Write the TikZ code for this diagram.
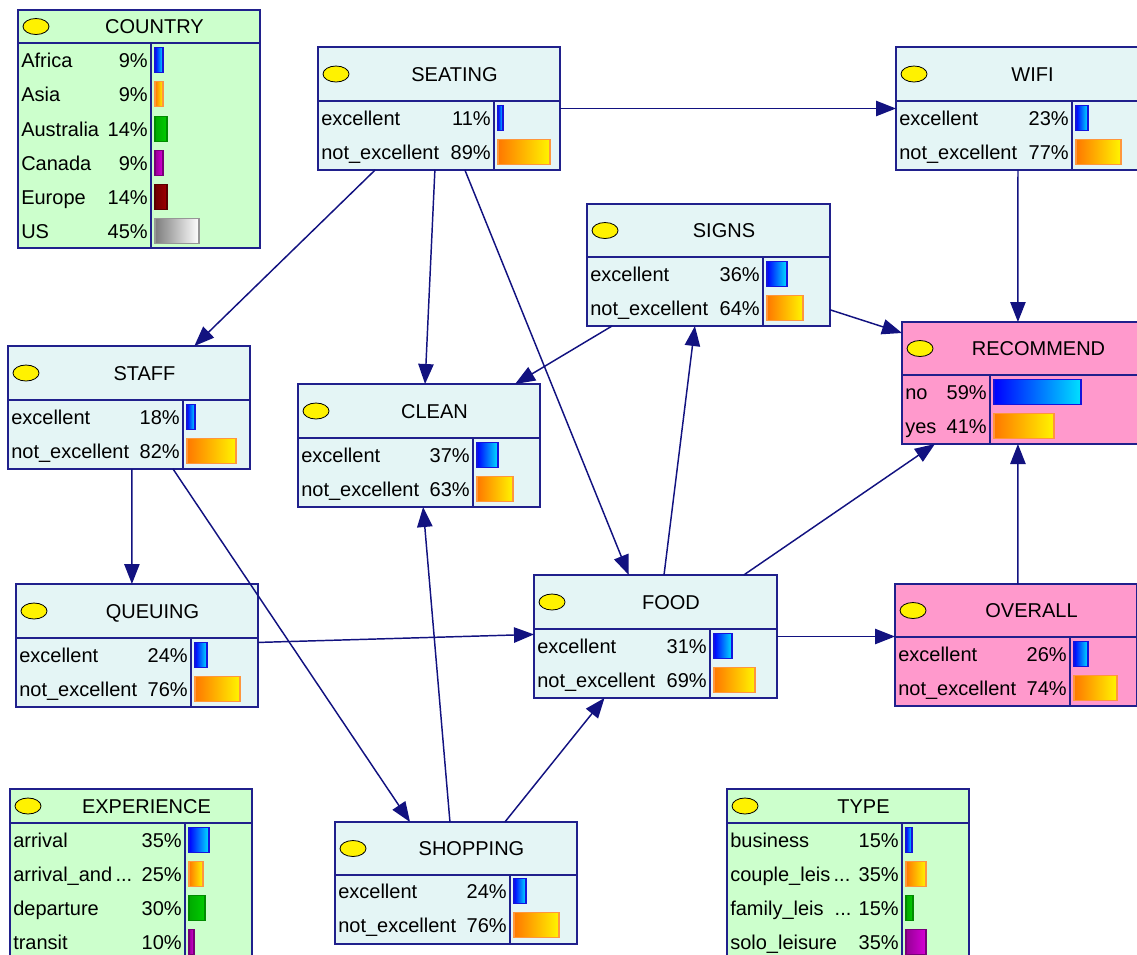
\documentclass[tikz,border=0pt]{standalone}
\usepackage{fontspec}
\setmainfont{Liberation Sans}
\usetikzlibrary{calc,arrows.meta}
\definecolor{cyanfill}{RGB}{228,245,245}
\definecolor{greenfill}{RGB}{204,255,204}
\definecolor{pinkfill}{RGB}{255,153,204}
\definecolor{boxline}{RGB}{32,32,140}
\definecolor{arrowcol}{RGB}{18,18,128}
\tikzset{
  box/.style={draw=boxline, line width=1.3pt, inner sep=0pt, outer sep=0pt},
  boxln/.style={draw=boxline, line width=1.3pt},
  icon/.style={fill=yellow, draw=black, line width=0.6pt},
  ttl/.style={font=\fontsize{15}{18}\selectfont, inner sep=0pt, anchor=base},
  lbl/.style={font=\fontsize{15}{18}\selectfont, inner sep=0pt},
  arr/.style={draw=arrowcol, line width=1.1pt, -{Triangle[length=15pt,width=11.5pt]}},
  bblue/.style={draw={rgb,255:red,20;green,20;blue,220}, line width=0.8pt, left color={rgb,255:red,0;green,0;blue,255}, right color={rgb,255:red,0;green,225;blue,255}},
  borange/.style={draw={rgb,255:red,255;green,150;blue,60}, line width=0.8pt, left color={rgb,255:red,255;green,120;blue,0}, right color={rgb,255:red,255;green,245;blue,0}},
  bgreen/.style={draw={rgb,255:red,0;green,140;blue,0}, line width=0.8pt, left color={rgb,255:red,0;green,170;blue,0}, right color={rgb,255:red,0;green,205;blue,0}},
  bpurple/.style={draw={rgb,255:red,120;green,0;blue,120}, line width=0.8pt, left color={rgb,255:red,150;green,0;blue,150}, right color={rgb,255:red,215;green,0;blue,215}},
  bred/.style={draw={rgb,255:red,90;green,0;blue,0}, line width=0.8pt, left color={rgb,255:red,110;green,0;blue,0}, right color={rgb,255:red,160;green,0;blue,0}},
  bgray/.style={draw={rgb,255:red,150;green,150;blue,150}, line width=0.8pt, left color={rgb,255:red,125;green,125;blue,125}, right color=white},
}
% #1 name, #2 x, #3 y, #4 width, #5 header height, #6 rows, #7 divider x, #8 fill, #9 title
\newcommand\bnbox[9]{%
  \pgfmathsetmacro\bnbh{#5+#6*34+1}%
  \node[box, fill=#8, minimum width=#4*0.75pt, minimum height=\bnbh*0.75pt, anchor=north west] (#1) at (#2,#3) {};
  \draw[boxln] (#2,#3+#5) -- ++(#4,0);
  \draw[boxln] (#7,#3+#5) -- (#7,#3+\bnbh);
  \draw[icon] (#2+18,#3+#5/2) ellipse [x radius=13, y radius=8];
  \node[ttl] (#1-t) at ({(2*#2+31+#4)/2},{#3+#5/2+7}) {#9};
}
% #1 name, #2 x left, #3 divider x, #4 y centre, #5 label, #6 percent, #7 bar width, #8 bar style
\newcommand\bnrow[8]{%
  \node[lbl, anchor=base west] (#1-l) at (#2+3,#4+7) {#5};
  \node[lbl, anchor=base east] (#1-p) at (#3-3,#4+7) {#6};
  \draw[#8] (#3+4,#4-12.5) rectangle ++(#7,25);
}
\begin{document}
\begin{tikzpicture}[x=0.75pt,y=-0.75pt]
\useasboundingbox (0,0) rectangle (1137,954);
\clip (0,0) rectangle (1137,954);

% COUNTRY
\bnbox{country}{18}{10}{242}{33}{6}{151}{greenfill}{COUNTRY}
\bnrow{c1}{18}{151}{60}{Africa}{9\%}{8}{bblue}
\bnrow{c2}{18}{151}{94}{Asia}{9\%}{8}{borange}
\bnrow{c3}{18}{151}{129}{Australia}{14\%}{12}{bgreen}
\bnrow{c4}{18}{151}{163}{Canada}{9\%}{8}{bpurple}
\bnrow{c5}{18}{151}{197}{Europe}{14\%}{12}{bred}
\bnrow{c6}{18}{151}{231}{US}{45\%}{44}{bgray}

% SEATING
\bnbox{seating}{318}{47}{242}{54}{2}{494}{cyanfill}{SEATING}
\bnrow{s1}{318}{494}{118}{excellent}{11\%}{5}{bblue}
\bnrow{s2}{318}{494}{152}{not\_excellent}{89\%}{52}{borange}

% WIFI
\bnbox{wifi}{896}{47}{242}{54}{2}{1072}{cyanfill}{WIFI}
\bnrow{w1}{896}{1072}{118}{excellent}{23\%}{12}{bblue}
\bnrow{w2}{896}{1072}{152}{not\_excellent}{77\%}{45}{borange}

% SIGNS
\bnbox{signs}{587}{204}{243}{53}{2}{763}{cyanfill}{SIGNS}
\bnrow{g1}{587}{763}{274}{excellent}{36\%}{20}{bblue}
\bnrow{g2}{587}{763}{308}{not\_excellent}{64\%}{36}{borange}

% RECOMMEND
\bnbox{recommend}{902}{322}{242}{53}{2}{990}{pinkfill}{RECOMMEND}
\bnrow{r1}{902}{990}{392}{no}{59\%}{87}{bblue}
\bnrow{r2}{902}{990}{426}{yes}{41\%}{60}{borange}

% STAFF
\bnbox{staff}{8}{346}{242}{54}{2}{183}{cyanfill}{STAFF}
\bnrow{t1}{8}{183}{417}{excellent}{18\%}{8}{bblue}
\bnrow{t2}{8}{183}{451}{not\_excellent}{82\%}{49}{borange}

% CLEAN
\bnbox{clean}{298}{384}{242}{54}{2}{473}{cyanfill}{CLEAN}
\bnrow{k1}{298}{473}{455}{excellent}{37\%}{21}{bblue}
\bnrow{k2}{298}{473}{489}{not\_excellent}{63\%}{36}{borange}

% QUEUING
\bnbox{queuing}{16}{584}{242}{54}{2}{191}{cyanfill}{QUEUING}
\bnrow{q1}{16}{191}{655}{excellent}{24\%}{12}{bblue}
\bnrow{q2}{16}{191}{689}{not\_excellent}{76\%}{45}{borange}

% FOOD
\bnbox{food}{534}{575}{243}{54}{2}{710}{cyanfill}{FOOD}
\bnrow{f1}{534}{710}{646}{excellent}{31\%}{18}{bblue}
\bnrow{f2}{534}{710}{680}{not\_excellent}{69\%}{41}{borange}

% OVERALL
\bnbox{overall}{895}{584}{242}{53}{2}{1070}{pinkfill}{OVERALL}
\bnrow{o1}{895}{1070}{654}{excellent}{26\%}{14}{bblue}
\bnrow{o2}{895}{1070}{688}{not\_excellent}{74\%}{43}{borange}

% SHOPPING
\bnbox{shopping}{335}{822}{242}{53}{2}{510}{cyanfill}{SHOPPING}
\bnrow{h1}{335}{510}{891}{excellent}{24\%}{12}{bblue}
\bnrow{h2}{335}{510}{925}{not\_excellent}{76\%}{45}{borange}

% EXPERIENCE
\bnbox{experience}{10}{789}{242}{34}{4}{185}{greenfill}{EXPERIENCE}
\bnrow{e1}{10}{185}{840}{arrival}{35\%}{20}{bblue}
\bnrow{e2}{10}{185}{874}{arrival\_and\,...}{25\%}{14}{borange}
\bnrow{e3}{10}{185}{908}{departure}{30\%}{16}{bgreen}
\bnrow{e4}{10}{185}{942}{transit}{10\%}{5}{bpurple}

% TYPE
\bnbox{type}{727}{789}{242}{34}{4}{902}{greenfill}{TYPE}
\bnrow{y1}{727}{902}{840}{business}{15\%}{6}{bblue}
\bnrow{y2}{727}{902}{874}{couple\_leis\,...}{35\%}{20}{borange}
\bnrow{y3}{727}{902}{908}{family\_leis \ ...}{15\%}{7}{bgreen}
\bnrow{y4}{727}{902}{942}{solo\_leisure}{35\%}{20}{bpurple}

% connectors
\draw[arr] (seating.east) -- (seating.east -| wifi.west);
\draw[arr] ($(seating.south west)!0.236!(seating.south east)$) -- ($(staff.north west)!0.77!(staff.north east)$);
\draw[arr] ($(seating.south west)!0.483!(seating.south east)$) -- ($(clean.north west)!0.525!(clean.north east)$);
\draw[arr] ($(seating.south west)!0.607!(seating.south east)$) -- ($(food.north west)!0.39!(food.north east)$);
\draw[arr] ($(wifi.south west)!0.504!(wifi.south east)$) -- ($(recommend.north west)!0.479!(recommend.north east)$);
\draw[arr] ($(signs.north east)!0.867!(signs.south east)$) -- ($(recommend.north west)!0.09!(recommend.south west)$);
\draw[arr] ($(signs.south west)!0.103!(signs.south east)$) -- ($(clean.north west)!0.897!(clean.north east)$);
\draw[arr] ($(food.north west)!0.535!(food.north east)$) -- ($(signs.south west)!0.444!(signs.south east)$);
\draw[arr] ($(food.north west)!0.863!(food.north east)$) -- ($(recommend.south west)!0.136!(recommend.south east)$);
\draw[arr] ($(overall.north west)!0.508!(overall.north east)$) -- ($(recommend.south west)!0.479!(recommend.south east)$);
\draw[arr] (food.east) -- (food.east -| overall.west);
\draw[arr] ($(queuing.north east)!0.475!(queuing.south east)$) -- ($(food.north west)!0.483!(food.south west)$);
\draw[arr] ($(staff.south west)!0.512!(staff.south east)$) -- ($(queuing.north west)!0.479!(queuing.north east)$);
\draw[arr] ($(staff.south west)!0.682!(staff.south east)$) -- ($(shopping.north west)!0.31!(shopping.north east)$);
\draw[arr] ($(shopping.north west)!0.475!(shopping.north east)$) -- ($(clean.south west)!0.517!(clean.south east)$);
\draw[arr] ($(shopping.north west)!0.702!(shopping.north east)$) -- ($(food.south west)!0.29!(food.south east)$);
\end{tikzpicture}
\end{document}
